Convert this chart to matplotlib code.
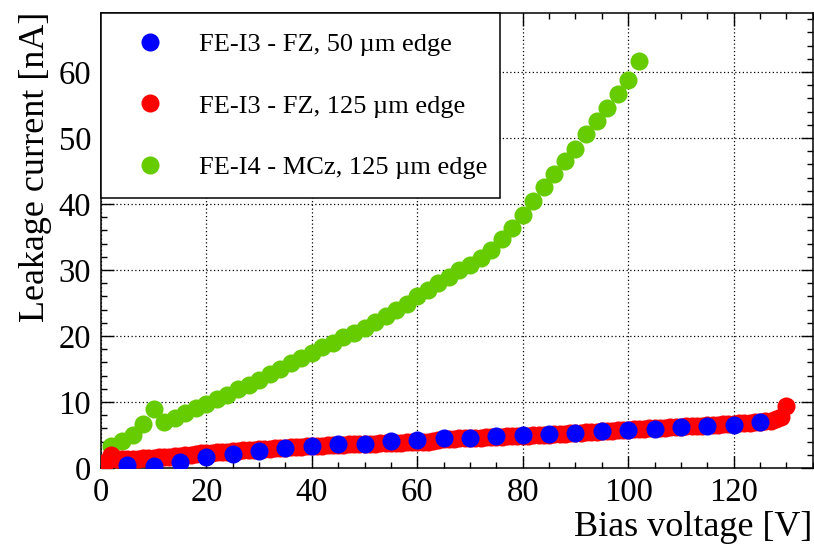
import numpy as np
import matplotlib.pyplot as plt
from matplotlib.patches import Rectangle
from matplotlib.ticker import MultipleLocator

# FE-I3 - FZ, 50 um edge (one point every 5 V)
blue_v = np.arange(5, 130, 5)
blue_i = [0.5, 0.35, 0.95, 1.6, 2.05, 2.65, 3.0, 3.35, 3.6, 3.7,
          4.1, 4.25, 4.5, 4.5, 4.85, 5.0, 5.1, 5.25, 5.6, 5.75,
          5.9, 6.2, 6.4, 6.5, 7.0]

# FE-I3 - FZ, 125 um edge (one point every 1 V)
red_v = np.arange(1, 131)
red_i = [0.9, 2.0, 1.4, 1.3, 1.3, 1.35, 1.4, 1.45, 1.5, 1.55,
         1.6, 1.65, 1.7, 1.8, 1.85, 1.95, 2.0, 2.1, 2.2, 2.3,
         2.35, 2.4, 2.45, 2.5, 2.6, 2.65, 2.7, 2.75, 2.8, 2.85,
         2.9, 2.95, 3.0, 3.05, 3.1, 3.15, 3.2, 3.25, 3.3, 3.3,
         3.35, 3.4, 3.45, 3.5, 3.5, 3.55, 3.6, 3.6, 3.65, 3.65,
         3.7, 3.7, 3.75, 3.8, 3.8, 3.85, 3.85, 3.9, 3.9, 3.95,
         3.95, 4.0, 4.05, 4.2, 4.35, 4.4, 4.45, 4.5, 4.5, 4.55,
         4.6, 4.6, 4.65, 4.7, 4.75, 4.75, 4.8, 4.85, 4.85, 4.9,
         4.9, 4.95, 5.0, 5.0, 5.05, 5.1, 5.15, 5.2, 5.25, 5.3,
         5.35, 5.4, 5.45, 5.5, 5.55, 5.6, 5.65, 5.7, 5.75, 5.8,
         5.85, 5.9, 5.95, 6.0, 6.05, 6.1, 6.1, 6.15, 6.2, 6.25,
         6.3, 6.3, 6.35, 6.4, 6.45, 6.5, 6.55, 6.6, 6.65, 6.7,
         6.75, 6.8, 6.85, 6.9, 7.0, 7.1, 7.2, 7.4, 7.8, 9.4]

# FE-I4 - MCz, 125 um edge (one point every 2 V)
green_v = np.arange(2, 104, 2)
green_i = [3.3, 4.1, 5.0, 6.6, 8.9, 6.9, 7.6, 8.4, 9.1, 9.7,
           10.5, 11.0, 11.9, 12.6, 13.3, 14.2, 15.0, 15.9, 16.6, 17.4,
           18.3, 19.0, 19.8, 20.5, 21.2, 22.2, 23.1, 24.0, 24.8, 26.0,
           27.0, 28.0, 28.9, 30.0, 30.8, 31.8, 33.0, 34.7, 36.4, 38.3,
           40.5, 42.6, 44.5, 46.6, 48.4, 50.6, 52.6, 54.5, 56.7, 58.8,
           61.7]

labels = ['FE-I3 - FZ, 50 µm edge', 'FE-I3 - FZ, 125 µm edge',
          'FE-I4 - MCz, 125 µm edge']

plt.rcParams['font.family'] = ['Liberation Serif', 'DejaVu Serif']

fig = plt.figure(figsize=(8.14, 5.47), dpi=100)
ax = fig.add_axes([0.124, 0.1444, 0.8745, 0.8324])

ms = 13
ax.plot(green_v, green_i, 'o', color='#66cc00', ms=ms, mew=0, zorder=2)
ax.plot(red_v, red_i, 'o', color='#ff0000', ms=ms, mew=0, zorder=3)
ax.plot(blue_v, blue_i, 'o', color='#0000ff', ms=ms, mew=0, zorder=3.5)

ax.set_xlim(0, 135)
ax.set_ylim(0, 69)
ax.xaxis.set_major_locator(MultipleLocator(20))
ax.xaxis.set_minor_locator(MultipleLocator(5))
ax.yaxis.set_major_locator(MultipleLocator(10))
ax.yaxis.set_minor_locator(MultipleLocator(2))
ax.tick_params(which='both', direction='in', top=True, right=True,
               labelsize=23.5, width=1.0)
ax.tick_params(which='major', length=9, pad=7)
ax.tick_params(which='minor', length=4.5)
for s in ax.spines.values():
    s.set_linewidth(1.1)
ax.grid(True, which='major', color='black', linestyle=(0, (1, 2)),
        linewidth=0.9, zorder=1)
ax.set_axisbelow(True)

fig.text(36 / 814, 1 - 12 / 547, 'Leakage current [nA]', rotation=90,
         ha='center', va='top', fontsize=26)
fig.text(812 / 814, 1 - 528 / 547, 'Bias voltage [V]', ha='right',
         va='center', fontsize=26)

# legend box
box = Rectangle((0, 0.593), 0.56, 0.407, transform=ax.transAxes,
                facecolor='white', edgecolor='black', lw=1.1, zorder=4,
                clip_on=False)
ax.add_patch(box)
handles = [plt.Line2D([], [], ls='none', marker='o', ms=ms, mew=0, color=c)
           for c in ['#0000ff', '#ff0000', '#66cc00']]
ax.legend(handles, labels, loc='upper left', bbox_to_anchor=(0.0502, 0.956),
          frameon=False, fontsize=19, handlelength=1.0, handletextpad=1.36,
          borderpad=0, borderaxespad=0, labelspacing=1.44).set_zorder(5)

fig.savefig('out.png', dpi=100)
